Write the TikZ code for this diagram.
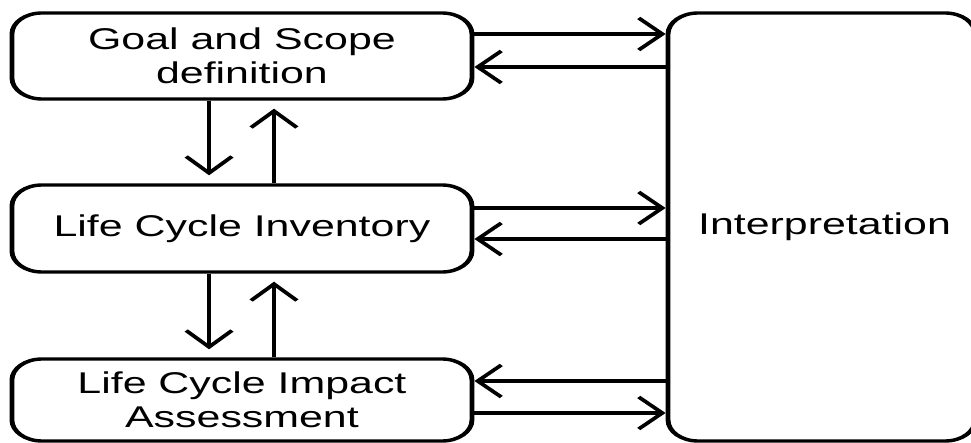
\documentclass[tikz,border=0pt]{standalone}
\usepackage{fontspec}
\setmainfont{Liberation Sans}
\usetikzlibrary{arrows.meta}
\begin{document}
\begin{tikzpicture}[x=1pt,y=1pt,
  box/.style={draw,line width=3.4pt,rounded corners=21pt,align=center,font=\fontsize{30}{34}\selectfont,inner sep=0pt},
  arr/.style={line width=3.2pt,-{Straight Barb[length=16.5pt,width=32pt,line width=3.2pt]}},
  varr/.style={arr,shorten >=8pt}]
\useasboundingbox (0,0) rectangle (971,-443);
\begin{scope}[transform canvas={xscale=1.43}]
\node[box,minimum width=321.7pt,minimum height=86pt] (g) at (169.2,-56) {Goal and Scope\\definition};
\node[box,minimum width=321.7pt,minimum height=87pt] (l) at (169.2,-228.5) {Life Cycle Inventory};
\node[box,minimum width=321.7pt,minimum height=82pt] (a) at (169.2,-400) {Life Cycle Impact\\Assessment};
\node[box,minimum width=214.7pt,minimum height=428pt] (i) at (574.5,-227) {};
\node[font=\fontsize{30}{34}\selectfont,inner sep=0pt] (it) at (576.6,-227) {Interpretation};
% horizontal
\draw[arr] ([yshift=22pt]g.east) -- ([yshift=22pt]g.east -| i.west);
\draw[arr] ([yshift=-11pt]g.east -| i.west) -- ([yshift=-11pt]g.east);
\draw[arr] ([yshift=20.5pt]l.east) -- ([yshift=20.5pt]l.east -| i.west);
\draw[arr] ([yshift=-10.5pt]l.east -| i.west) -- ([yshift=-10.5pt]l.east);
\draw[arr] ([yshift=19pt]a.east -| i.west) -- ([yshift=19pt]a.east);
\draw[arr] ([yshift=-13pt]a.east) -- ([yshift=-13pt]a.east -| i.west);
% vertical
\draw[varr] ([xshift=-23pt]g.south) -- ([xshift=-23pt]l.north);
\draw[varr] ([xshift=22.4pt]l.north) -- ([xshift=22.4pt]g.south);
\draw[varr] ([xshift=-23pt]l.south) -- ([xshift=-23pt]a.north);
\draw[varr] ([xshift=22.4pt]a.north) -- ([xshift=22.4pt]l.south);
\end{scope}
\end{tikzpicture}
\end{document}
